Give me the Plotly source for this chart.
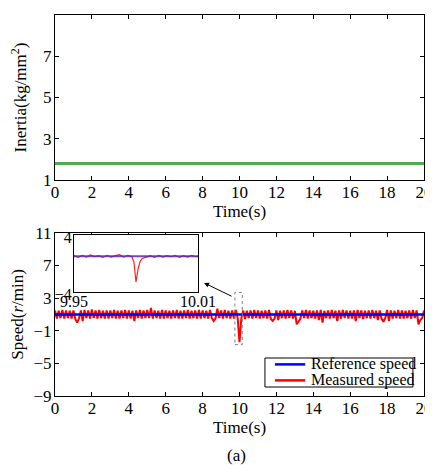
import plotly.graph_objects as go

# ---------------- data ----------------
time_top = [0, 20]
inertia = [1.8, 1.8]

time_s = [round(i * 0.1, 1) for i in range(201)]
reference_speed = [1.0] * 201
measured_speed = [
    1.5, 0.5, 1.45, 0.55, 1.55, 0.5, 1.5, 0.55, 1.45, 0.5,
    1.5, 0.45, 0.0, 0.5, 1.5, 0.2, 1.55, 0.55, 1.5, 0.5,
    1.6, 0.55, 1.5, 0.5, 1.55, 0.55, 1.45, 0.5, 1.5, 0.5,
    1.5, 0.55, 1.55, 0.5, 1.45, 0.5, 1.5, 0.55, 1.55, 0.5,
    1.5, 0.5, 1.45, 0.2, 1.5, 0.55, 1.55, 0.5, 1.5, 0.55,
    1.55, 0.55, 1.8, 0.5, 1.5, 0.55, 1.45, 0.5, 1.55, 0.5,
    1.5, 0.55, 1.45, 0.5, 1.5, 0.55, 1.55, 0.5, 1.45, 0.5,
    1.5, 0.55, 1.55, 0.5, 1.45, 0.55, 1.5, 0.5, 1.55, 0.5,
    1.5, 0.55, 1.45, 0.5, 1.55, 0.55, 0.2, 0.5, 1.7, 0.55,
    1.5, 0.5, 1.55, 0.55, 1.45, 0.5, 1.5, 0.5, 1.55, 0.55,
    -2.4, 0.55, 1.5, 0.45, 1.45, 0.55, 1.5, 0.5, 1.55, 0.55,
    1.5, 0.5, 1.45, 0.55, 1.5, 0.5, 1.55, 0.45, 0.2, 0.5,
    1.5, 0.3, 1.45, 0.55, 1.5, 0.5, 1.55, 0.55, 1.5, 0.5,
    1.45, -0.2, 0.1, 0.5, 1.5, 0.55, 1.55, 0.5, 1.5, 0.55,
    1.45, 0.5, 1.5, 0.3, 1.55, 0.0, 1.45, 0.55, 1.5, 0.5,
    1.55, 0.55, 1.45, 0.2, 1.5, 0.5, 1.55, 0.55, 1.5, 0.5,
    1.45, 0.5, 1.5, 0.2, 1.55, 0.55, 1.5, 0.45, 1.45, 0.55,
    1.5, 0.5, 1.55, 0.55, 1.45, 0.3, 1.5, 0.5, 0.1, 0.55,
    1.55, 0.2, 1.5, 0.5, 1.45, 0.55, 1.55, 0.5, 1.5, 0.5,
    1.45, 0.55, 1.5, 0.5, 1.55, 0.55, 1.5, -0.2, 0.3, 0.55,
    1.5,
]

inset_t = [9.950, 9.952, 9.954, 9.956, 9.958, 9.960, 9.962, 9.964, 9.966, 9.968,
           9.970, 9.972, 9.974, 9.976, 9.978, 9.979, 9.980, 9.981, 9.982, 9.983,
           9.985, 9.987, 9.989, 9.991, 9.993, 9.995, 9.997, 9.999, 10.001, 10.003,
           10.005, 10.007, 10.009, 10.010]
inset_meas = [1.1, 0.85, 1.15, 0.9, 1.2, 0.95, 1.1, 0.85, 1.15, 0.9,
              1.1, 1.25, 0.9, 1.15, 0.95, 0.2, -2.6, -0.8, 0.3, 0.7,
              0.9, 1.1, 0.85, 1.15, 0.9, 1.1, 0.95, 1.15, 0.85, 1.1,
              0.9, 1.15, 0.95, 1.0]
inset_ref = [1.0] * len(inset_t)

x_ticks = [0, 2, 4, 6, 8, 10, 12, 14, 16, 18, 20]
inertia_ticks = [1, 3, 5, 7, 9]
speed_ticks = [-9, -5, -1, 3, 7, 11]
inset_xticks = [9.95, 10.01]
inset_yticks = [-4, 4]
legend_names = ["Reference speed", "Measured speed"]
legend_colors = ["#0000ff", "#ff0000"]

# ---------------- figure ----------------
FONT = "Liberation Serif"
fig = go.Figure()

fig.add_trace(go.Scatter(x=time_top, y=inertia, mode="lines",
                         line=dict(color="#4dac4f", width=3),
                         xaxis="x", yaxis="y", showlegend=False))

fig.add_trace(go.Scatter(x=time_s, y=measured_speed, mode="lines", name="Measured speed",
                         line=dict(color="#ff0000", width=2),
                         xaxis="x2", yaxis="y2", showlegend=False))
fig.add_trace(go.Scatter(x=time_s, y=reference_speed, mode="lines", name="Reference speed",
                         line=dict(color="#0000ff", width=2.6),
                         xaxis="x2", yaxis="y2", showlegend=False))

fig.add_trace(go.Scatter(x=inset_t, y=inset_meas, mode="lines",
                         line=dict(color="#ff2020", width=1.2),
                         xaxis="x3", yaxis="y3", showlegend=False))
fig.add_trace(go.Scatter(x=inset_t, y=inset_ref, mode="lines",
                         line=dict(color="rgba(90,40,170,0.85)", width=2),
                         xaxis="x3", yaxis="y3", showlegend=False))

axis_common = dict(showline=True, linecolor="black", linewidth=1, mirror="allticks",
                   ticks="inside", ticklen=4, tickcolor="black", showgrid=False,
                   zeroline=False, automargin=False,
                   tickfont=dict(family=FONT, size=17, color="black"))
inset_common = {**axis_common, "tickfont": dict(family=FONT, size=16, color="black"), "ticklen": 3}

fig.update_layout(
    width=433, height=465,
    margin=dict(l=47, r=17, t=7, b=77),
    paper_bgcolor="white", plot_bgcolor="white",
    font=dict(family=FONT, size=17, color="black"),
    showlegend=False,
    xaxis=dict(domain=[0, 1], range=[0, 20], tickvals=x_ticks, anchor="y",
               ticklabelstandoff=-3,
               title=dict(text="Time(s)", standoff=0, font=dict(size=17)), **axis_common),
    yaxis=dict(domain=[0.567, 1.0], range=[1, 9], tickvals=inertia_ticks, anchor="x",
               ticklabelstandoff=-1,
               title=dict(text="Inertia(kg/mm<sup>2</sup>)", standoff=12, font=dict(size=17)),
               **axis_common),
    xaxis2=dict(domain=[0, 1], range=[0, 20], tickvals=x_ticks, anchor="y2",
                ticklabelstandoff=-3,
                title=dict(text="Time(s)", standoff=0, font=dict(size=17)), **axis_common),
    yaxis2=dict(domain=[0, 0.428], range=[-9, 11], tickvals=speed_ticks, anchor="x2",
                ticklabelstandoff=-1,
                title=dict(text="Speed(<i>r</i>/min)", standoff=10, font=dict(size=17)),
                **axis_common),
    xaxis3=dict(domain=[0.0515, 0.3875], range=[9.95, 10.01], tickvals=inset_xticks,
                ticktext=["9.95", "10.01"], anchor="y3", ticklabelstandoff=-5, **inset_common),
    yaxis3=dict(domain=[0.273, 0.4226], range=[-4, 4], tickvals=inset_yticks, anchor="x3",
                ticklabelstandoff=-2, ticklabelshift=2, **inset_common),
)

# inset background (white box)
fig.add_shape(type="rect", xref="x3 domain", yref="y3 domain", x0=0, x1=1, y0=0, y1=1,
              fillcolor="white", line=dict(width=0), layer="below")

# dashed zoom rectangle
fig.add_shape(type="rect", xref="x2", yref="y2", x0=9.75, x1=10.15, y0=-2.7, y1=3.7,
              line=dict(color="gray", width=1, dash="dot"))

# arrow from rectangle to inset
fig.add_annotation(x=8.08, y=4.87, xref="x2", yref="y2",
                   ax=9.65, ay=3.15, axref="x2", ayref="y2",
                   showarrow=True, arrowhead=2, arrowsize=1, arrowwidth=1, arrowcolor="black",
                   text="")

# legend box (drawn manually for compact spacing)
fig.add_shape(type="rect", xref="paper", yref="paper", x0=0.569, x1=0.970, y0=0.0236, y1=0.0997,
              fillcolor="white", line=dict(color="black", width=1))
legend_y = [0.083, 0.041]
for name, color, ly in zip(legend_names, legend_colors, legend_y):
    fig.add_shape(type="line", xref="paper", yref="paper", x0=0.596, x1=0.678, y0=ly, y1=ly,
                  line=dict(color=color, width=2.5))
    fig.add_annotation(x=0.688, y=ly, xref="paper", yref="paper", text=name,
                       xanchor="left", yanchor="middle", showarrow=False,
                       font=dict(family=FONT, size=16, color="black"))

fig.add_annotation(x=0.493, y=-0.155, xref="paper", yref="paper", text="(a)",
                   xanchor="center", yanchor="middle",
                   showarrow=False, font=dict(family=FONT, size=17, color="black"))

fig.write_html("out.html")
